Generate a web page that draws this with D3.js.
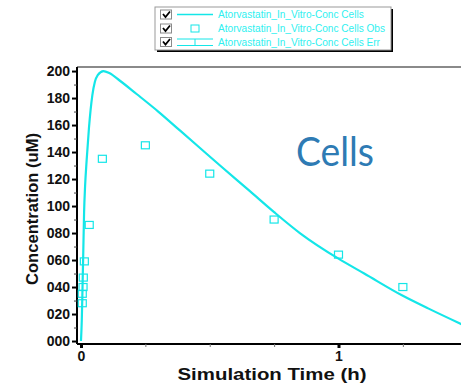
<!DOCTYPE html>
<html><head><meta charset="utf-8">
<script src="https://cdn.jsdelivr.net/npm/d3@7"></script>
<style>
html,body{margin:0;padding:0;background:#fff;}
svg{display:block;}
</style></head>
<body>
<script>
// ---- data ----
const simTime = [0, 0.003, 0.006, 0.009, 0.012, 0.016, 0.022, 0.031, 0.044, 0.054, 0.065, 0.087, 0.11, 0.15, 0.216, 0.3, 0.384, 0.45, 0.54, 0.656, 0.75, 0.85, 1.0, 1.1, 1.25, 1.35, 1.5];
const simConc = [0, 15, 40, 67, 95, 115, 134, 158, 182, 192, 197, 200, 198.5, 193, 183, 170, 156, 145, 130, 111, 95.5, 80, 61, 50, 33.5, 24, 10.5];
const obsTime = [0.005, 0.005, 0.008, 0.009, 0.013, 0.032, 0.083, 0.25, 0.5, 0.75, 1.0, 1.25];
const obsConc = [28, 35, 40, 47, 59, 86, 135, 145, 124, 90, 64, 40];
const yTicks = [0, 20, 40, 60, 80, 100, 120, 140, 160, 180, 200];
const xTicks = [0, 1];
const legendLabels = ["Atorvastatin_In_Vitro-Conc Cells", "Atorvastatin_In_Vitro-Conc Cells Obs", "Atorvastatin_In_Vitro-Conc Cells Err"];

const W = 461, H = 383;
const cyan = "#14e6e8";
const svg = d3.select("body").append("svg").attr("width", W).attr("height", H);

const x = d3.scaleLinear().domain([-0.0155, 1.5]).range([77, 77 + 1.5155 * 257.5]);
const y = d3.scaleLinear().domain([-2.2, 203]).range([344, 67]);

svg.append("defs").append("clipPath").attr("id", "clip")
  .append("rect").attr("x", 77).attr("y", 60).attr("width", W - 77).attr("height", 284);

// top frame line
svg.append("line").attr("x1", 77).attr("x2", W).attr("y1", 67).attr("y2", 67)
  .attr("stroke", "#8a8a8a").attr("stroke-width", 2);

// y axis
const yAxis = d3.axisLeft(y).tickValues(yTicks).tickFormat(d3.format("03d")).tickSize(5).tickPadding(2);
const gy = svg.append("g").attr("transform", "translate(77,0)").call(yAxis);
gy.select(".domain").attr("d", `M0,${y(203)}V${y(-2.2)}`).attr("stroke", "#000").attr("stroke-width", 2);
gy.selectAll(".tick line").attr("stroke", "#000").attr("stroke-width", 2);
gy.selectAll(".tick text").attr("font-family", "Liberation Sans, Arial, sans-serif").attr("font-weight", "bold").attr("font-size", 14).attr("fill", "#111");
// y minor ticks
const yMinor = d3.axisLeft(y).tickValues(d3.range(10, 200, 20)).tickSize(3).tickFormat("");
const gym = svg.append("g").attr("transform", "translate(77,0)").call(yMinor);
gym.select(".domain").remove();
gym.selectAll(".tick line").attr("stroke", "#444").attr("stroke-width", 1);

// x axis
const xAxis = d3.axisBottom(x).tickValues(xTicks).tickFormat(d3.format("d")).tickSize(4).tickPadding(3);
const gx = svg.append("g").attr("transform", "translate(0,344)").call(xAxis);
gx.select(".domain").attr("d", `M77,0H${W}`).attr("stroke", "#000").attr("stroke-width", 2);
gx.selectAll(".tick line").attr("stroke", "#000").attr("stroke-width", 3);
gx.selectAll(".tick text").attr("font-family", "Liberation Sans, Arial, sans-serif").attr("font-weight", "bold").attr("font-size", 14).attr("fill", "#111");
const xMinor = d3.axisBottom(x).tickValues([0.25, 0.5, 0.75, 1.25]).tickSize(3).tickFormat("");
const gxm = svg.append("g").attr("transform", "translate(0,344)").call(xMinor);
gxm.select(".domain").remove();
gxm.selectAll(".tick line").attr("stroke", "#777").attr("stroke-width", 1);

// axis titles
svg.append("text").attr("x", 272).attr("y", 380).attr("text-anchor", "middle")
  .attr("font-family", "Liberation Sans, Arial, sans-serif").attr("font-weight", "bold").attr("font-size", 17)
  .attr("textLength", 189).attr("lengthAdjust", "spacingAndGlyphs")
  .attr("fill", "#111").text("Simulation Time (h)");
svg.append("text").attr("transform", "translate(38,209) rotate(-90)").attr("text-anchor", "middle")
  .attr("font-family", "Liberation Sans, Arial, sans-serif").attr("font-weight", "bold").attr("font-size", 16)
  .attr("textLength", 152).attr("lengthAdjust", "spacingAndGlyphs")
  .attr("fill", "#111").text("Concentration (uM)");

// plot content
const plot = svg.append("g").attr("clip-path", "url(#clip)");
const sim = simTime.map((t, i) => [t, simConc[i]]);
plot.append("path").datum(sim)
  .attr("d", d3.line().x(d => x(d[0])).y(d => y(d[1])).curve(d3.curveMonotoneX))
  .attr("fill", "none").attr("stroke", cyan).attr("stroke-width", 2.2);
const obs = obsTime.map((t, i) => [t, obsConc[i]]);
plot.selectAll("rect.obs").data(obs).enter().append("rect").attr("class", "obs")
  .attr("x", d => x(d[0]) - 4).attr("y", d => y(d[1]) - 3.5)
  .attr("width", 8).attr("height", 7)
  .attr("fill", "none").attr("stroke", cyan).attr("stroke-width", 1.2);

// "Cells" annotation
svg.append("text").attr("x", 296).attr("y", 166)
  .attr("font-family", "Lato, 'Open Sans', sans-serif").attr("font-size", 41)
  .attr("textLength", 78).attr("lengthAdjust", "spacingAndGlyphs")
  .attr("fill", "#2e7bb4").text("Cells");

// legend
const lg = svg.append("g");
lg.append("rect").attr("x", 157).attr("y", 9).attr("width", 236).attr("height", 43).attr("fill", "#000");
lg.append("rect").attr("x", 155).attr("y", 7).attr("width", 236).attr("height", 43).attr("fill", "#fff").attr("stroke", "#999").attr("stroke-width", 1);
const rowsY = [14.5, 28.5, 42];
rowsY.forEach((ry, i) => {
  lg.append("rect").attr("x", 160.5).attr("y", ry - 4.5).attr("width", 11).attr("height", 9)
    .attr("fill", "#fff").attr("stroke", "#8a8a8a").attr("stroke-width", 1);
  lg.append("path").attr("d", `M163,${ry - 0.5}L165.5,${ry + 2.5}L170,${ry - 3}`)
    .attr("fill", "none").attr("stroke", "#000").attr("stroke-width", 1.8);
  lg.append("text").attr("x", 218).attr("y", ry + 3.8)
    .attr("font-family", "Liberation Sans, Arial, sans-serif").attr("font-size", 10.1)
    .attr("fill", "#2ff0f0").text(legendLabels[i]);
});
lg.append("line").attr("x1", 177).attr("x2", 213).attr("y1", rowsY[0]).attr("y2", rowsY[0]).attr("stroke", cyan).attr("stroke-width", 1.5);
lg.append("rect").attr("x", 191).attr("y", rowsY[1] - 3.5).attr("width", 8).attr("height", 7).attr("fill", "none").attr("stroke", cyan).attr("stroke-width", 1);
lg.append("path").attr("d", `M177,${rowsY[2] - 3}H213M195,${rowsY[2] - 3}V${rowsY[2] + 3.5}M177,${rowsY[2] + 3.5}H213`)
  .attr("fill", "none").attr("stroke", cyan).attr("stroke-width", 1);
</script>
</body></html>
